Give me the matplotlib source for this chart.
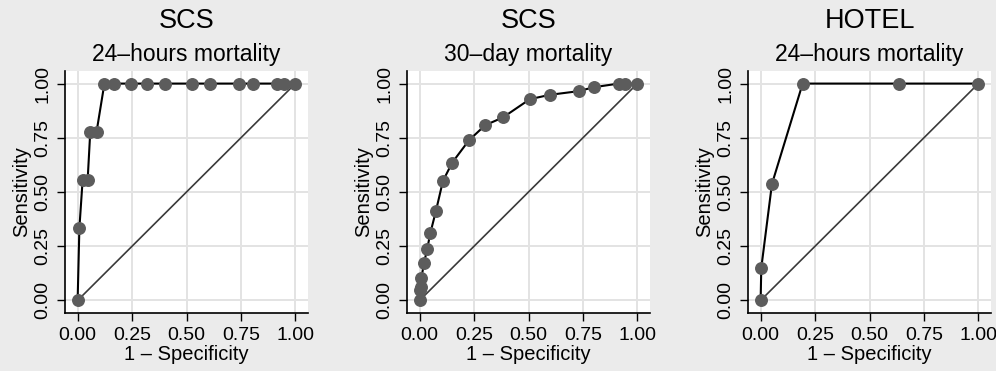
import matplotlib
matplotlib.use("Agg")
import matplotlib.pyplot as plt

plt.rcParams['font.family'] = ['Liberation Sans', 'DejaVu Sans']

titles = ["SCS", "SCS", "HOTEL"]
subtitles = ["24–hours mortality", "30–day mortality", "24–hours mortality"]

fpr_1 = [0.0, 0.008, 0.023, 0.046, 0.058, 0.087, 0.123, 0.169, 0.245, 0.319,
         0.402, 0.523, 0.610, 0.739, 0.805, 0.916, 0.946, 1.0]
tpr_1 = [0.0, 0.333, 0.556, 0.556, 0.778, 0.778, 1.0, 1.0, 1.0, 1.0,
         1.0, 1.0, 1.0, 1.0, 1.0, 1.0, 1.0, 1.0]

fpr_2 = [0.0, 0.003, 0.005, 0.008, 0.020, 0.035, 0.049, 0.075, 0.107, 0.150,
         0.227, 0.301, 0.383, 0.506, 0.597, 0.730, 0.799, 0.914, 0.945, 1.0]
tpr_2 = [0.0, 0.049, 0.064, 0.103, 0.172, 0.238, 0.310, 0.413, 0.551, 0.636,
         0.739, 0.808, 0.844, 0.928, 0.948, 0.965, 0.983, 1.0, 1.0, 1.0]

fpr_3 = [0.0, 0.003, 0.052, 0.193, 0.637, 1.0]
tpr_3 = [0.0, 0.150, 0.537, 1.0, 1.0, 1.0]

ticks = [0.0, 0.25, 0.5, 0.75, 1.0]
tick_labels = ["0.00", "0.25", "0.50", "0.75", "1.00"]

bg = "#ebebeb"
fig = plt.figure(figsize=(9.96, 3.71), dpi=100, facecolor=bg)

lefts = [65 / 996, 407 / 996, 748 / 996]
W = 243 / 996
B = (371 - 313) / 371
H = 242 / 371

data = [(fpr_1, tpr_1), (fpr_2, tpr_2), (fpr_3, tpr_3)]
for i, (fx, ty) in enumerate(data):
    ax = fig.add_axes([lefts[i], B, W, H])
    ax.set_facecolor("white")
    ax.set_xlim(-0.058, 1.058)
    ax.set_ylim(-0.058, 1.058)
    ax.grid(True, color="#e3e3e3", linewidth=1.4, zorder=0)
    ax.set_axisbelow(True)
    ax.plot([0, 1], [0, 1], color="#3a3a3a", linewidth=1.2, zorder=2)
    ax.plot(fx, ty, color="black", linewidth=1.5, zorder=3)
    ax.plot(fx, ty, linestyle="none", marker="o", markersize=8.3,
            markerfacecolor="#5c5c5c", markeredgecolor="#5c5c5c", zorder=4)
    for s in ["top", "right"]:
        ax.spines[s].set_visible(False)
    for s in ["left", "bottom"]:
        ax.spines[s].set_color("black")
        ax.spines[s].set_linewidth(1.2)
    ax.set_xticks(ticks)
    ax.set_xticklabels(tick_labels)
    ax.set_yticks(ticks)
    ax.set_yticklabels(tick_labels, rotation=90, va="center")
    ax.tick_params(direction="out", length=6, width=1.0, labelsize=14,
                   pad=4, colors="black")
    ax.set_xlabel("1 – Specificity", fontsize=14.5, labelpad=1)
    ax.set_ylabel("Sensitivity", fontsize=14.5, labelpad=2)
    cx = lefts[i] + W / 2
    fig.text(cx, 1 - 21 / 371, titles[i], ha="center", va="center",
             fontsize=19.5)
    fig.text(cx, 1 - 55 / 371, subtitles[i], ha="center", va="center",
             fontsize=16.5)

fig.savefig("out.png", dpi=100, facecolor=bg)
